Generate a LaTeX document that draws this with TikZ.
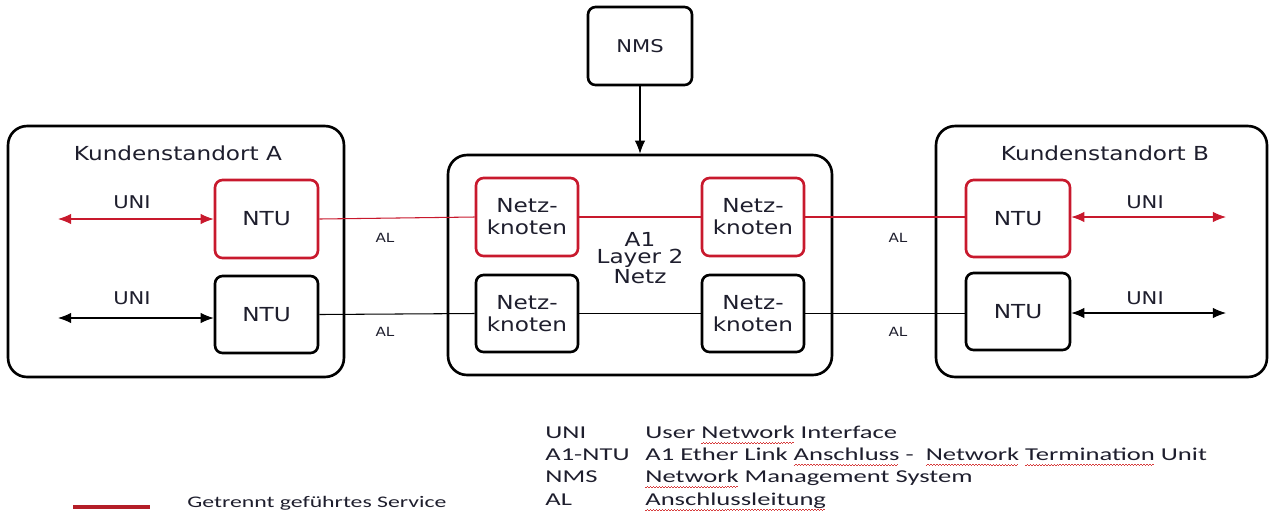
\documentclass[tikz,border=0pt]{standalone}
\usepackage{fontspec}
\setmainfont{DejaVu Sans}[FakeStretch=1.2]
\newfontfamily\legfont{Carlito}[FakeStretch=1.47]
\usetikzlibrary{arrows.meta}
\definecolor{nred}{RGB}{200,25,45}
\definecolor{txt}{RGB}{30,30,45}
\definecolor{wavered}{RGB}{215,60,60}
\newcommand\spellwave[1]{\setbox0\hbox{#1}\rlap{\copy0}\raisebox{-3.4pt}[0pt][0pt]{\color{wavered}\leaders\hbox{\rule{0.85pt}{0.6pt}\rule[0.8pt]{0.85pt}{0.6pt}}\hskip\wd0}}
\begin{document}
\begin{tikzpicture}[x=0.02cm,y=-0.02cm,
  outer/.style={draw=black, line width=1.5pt, rounded corners=0.38cm, inner sep=0pt},
  ibox/.style={draw=black, line width=1.5pt, rounded corners=0.15cm, minimum width=2.06cm,
     minimum height=1.56cm, align=center, inner sep=1pt, text=txt,
     font=\fontsize{11}{12.5}\selectfont},
  redbox/.style={ibox, draw=nred},
  conn/.style={line width=0.6pt},
  redconn/.style={conn, draw=nred},
  tip/.tip={Latex[length=7.5pt,width=6pt]},
  uni/.style={conn, tip-tip},
  lbl/.style={text=txt, inner sep=0pt},
  leg/.style={anchor=base west, inner sep=0pt, text=txt, font=\legfont\fontsize{10.3}{12}\selectfont}
]
\useasboundingbox (0,0) rectangle (1271,512);

% outer boxes
\node[outer, minimum width=6.72cm, minimum height=5.02cm] (siteA) at (176,251.5) {};
\node[outer, minimum width=7.68cm, minimum height=4.40cm] (net) at (640,265) {};
\node[outer, minimum width=6.62cm, minimum height=5.02cm] (siteB) at (1101.5,251.5) {};
\node[ibox, minimum width=2.08cm, minimum height=1.56cm, font=\fontsize{10}{12}\selectfont] (nms) at (640,46) {NMS};

\node[lbl, font=\fontsize{11}{13}\selectfont] (titA) at (178,153) {Kundenstandort A};
\node[lbl, font=\fontsize{11}{13}\selectfont] (titB) at (1105,153) {Kundenstandort B};
\node[lbl, align=center, font=\fontsize{11}{9.6}\selectfont] (l2) at (640,258) {A1\\Layer 2\\Netz};

% inner boxes
\node[redbox] (ntuAr) at (266.5,219) {NTU};
\node[ibox, minimum height=1.54cm] (ntuAb) at (266.5,314.5) {NTU};
\node[redbox, minimum width=2.04cm] (nkLr) at (527,217) {Netz-\\knoten};
\node[ibox, minimum width=2.04cm, minimum height=1.54cm] (nkLb) at (527,313.5) {Netz-\\knoten};
\node[redbox, minimum width=2.04cm] (nkRr) at (753,217) {Netz-\\knoten};
\node[ibox, minimum width=2.04cm, minimum height=1.54cm] (nkRb) at (753,313.5) {Netz-\\knoten};
\node[redbox, minimum width=2.08cm, minimum height=1.54cm] (ntuBr) at (1018,218.5) {NTU};
\node[ibox, minimum width=2.08cm, minimum height=1.54cm] (ntuBb) at (1018,311.5) {NTU};

% UNI end points
\coordinate (uAr) at (58,219);
\coordinate (uAb) at (58,318);
\coordinate (uBr) at (1226,217);
\coordinate (uBb) at (1226,313);

\draw[uni, nred] (uAr) -- (ntuAr.west |- uAr);
\draw[uni] (uAb) -- (ntuAb.west |- uAb);
\draw[uni, nred] (ntuBr.east |- uBr) -- (uBr);
\draw[uni] (ntuBb.east |- uBb) -- (uBb);

\node[lbl, font=\fontsize{10}{12}\selectfont] (uniA1) at (132,202) {UNI};
\node[lbl, font=\fontsize{10}{12}\selectfont] (uniA2) at (132,298) {UNI};
\node[lbl, font=\fontsize{10}{12}\selectfont] (uniB1) at (1145,202) {UNI};
\node[lbl, font=\fontsize{10}{12}\selectfont] (uniB2) at (1145,298) {UNI};

% links
\draw[redconn] (ntuAr.east) -- (nkLr.west);
\draw[redconn] (nkLr.east) -- (nkRr.west);
\draw[redconn] (nkRr.east) -- (ntuBr.west |- nkRr.east);
\draw[conn] (ntuAb.east) -- (nkLb.west);
\draw[conn] (nkLb.east) -- (nkRb.west);
\draw[conn] (nkRb.east) -- (ntuBb.west |- nkRb.east);

\node[lbl, font=\fontsize{7.2}{9}\selectfont] (al1) at (385,238) {AL};
\node[lbl, font=\fontsize{7.2}{9}\selectfont] (al2) at (385,332) {AL};
\node[lbl, font=\fontsize{7.2}{9}\selectfont] (al3) at (898,238) {AL};
\node[lbl, font=\fontsize{7.2}{9}\selectfont] (al4) at (898,332) {AL};

% NMS
\draw[conn, -tip] (nms.south) -- (net.north);

% legend
\node[leg] (k1) at (545,438) {UNI};
\node[leg] (v1) at (645,438) {User \spellwave{Network} Interface};
\node[leg] (k2) at (545,460) {A1-NTU};
\node[leg] (v2) at (645,460) {A1 Ether Link \spellwave{Anschluss} -\ \ \spellwave{Network} \spellwave{Termination} Unit};
\node[leg] (k3) at (545,482) {NMS};
\node[leg] (v3) at (645,482) {\spellwave{Network} Management System};
\node[leg] (k4) at (545,505) {AL};
\node[leg] (v4) at (645,505) {\spellwave{Anschlussleitung}};

\coordinate (lgs) at (73,507);
\coordinate (lge) at (150,507);
\draw[line width=2.2pt, draw={rgb,255:red,180;green,30;blue,40}] (lgs) -- (lge);
\node[leg, font=\legfont\fontsize{9.2}{11}\selectfont] (lgt) at (187,507.5) {Getrennt geführtes Service};
\end{tikzpicture}
\end{document}
